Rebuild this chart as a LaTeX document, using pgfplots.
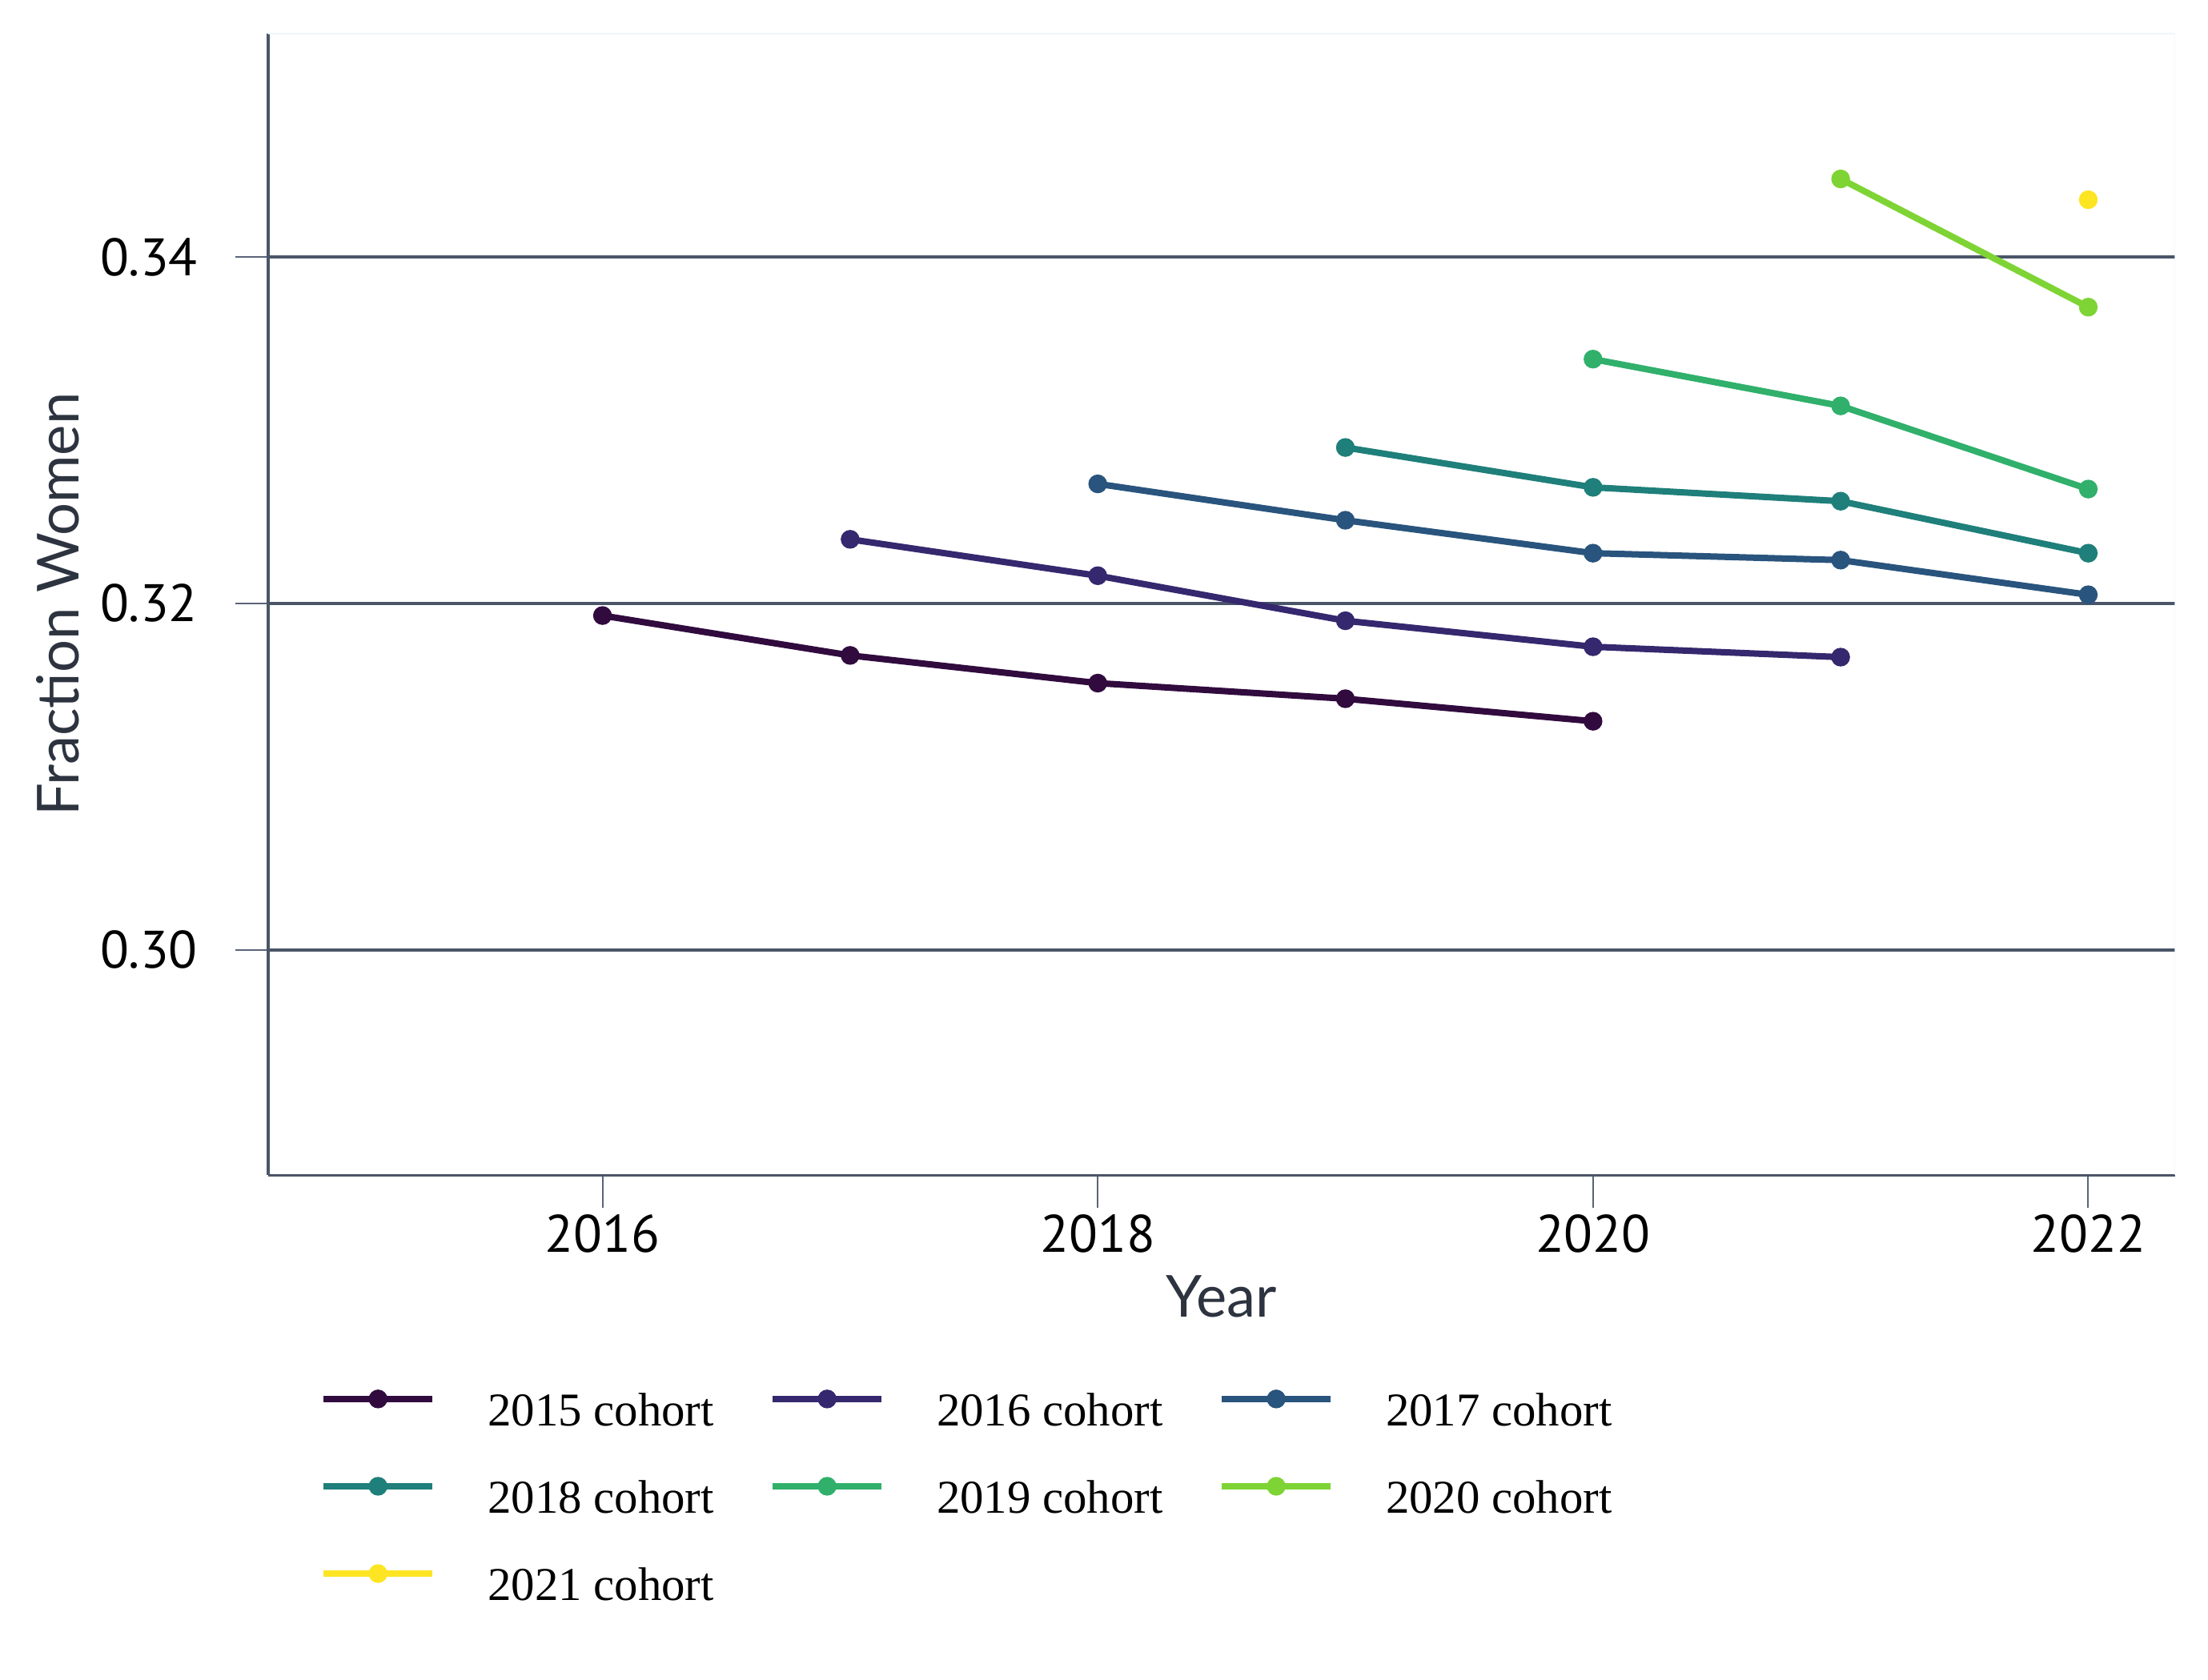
\documentclass[border=0pt]{standalone}
\usepackage{fontspec}
\usepackage{pgfplots}
\pgfplotsset{compat=1.18}
\setmainfont{Liberation Serif}
\newfontfamily\tickfam{PT Sans}
\newfontfamily\labelfam{Lato}
\newfontfamily\legendfam{Liberation Serif}
\newcommand\tickfont{\tickfam\fontsize{11.2bp}{13bp}\selectfont}
\newcommand\labelfont{\labelfam\fontsize{12.3bp}{14bp}\selectfont}
\newcommand\legendfont{\legendfam\fontsize{10bp}{12bp}\selectfont}
\newcommand\legendtext[1]{\makebox[59.8bp][l]{\rule[-5.95bp]{0pt}{18.8bp}#1}}
\definecolor{cA}{HTML}{310A3E}
\definecolor{cB}{HTML}{35286E}
\definecolor{cC}{HTML}{29547D}
\definecolor{cD}{HTML}{1F7F7A}
\definecolor{cE}{HTML}{30B06B}
\definecolor{cF}{HTML}{7ED434}
\definecolor{cG}{HTML}{FDE523}
\definecolor{slate}{HTML}{4A5568}
\definecolor{tickc}{HTML}{5A6478}
\definecolor{labelc}{HTML}{2D3440}
\definecolor{faint}{HTML}{EEF4FB}
\begin{document}
\begin{tikzpicture}
\useasboundingbox (0,0) rectangle (468.86bp,356.83bp);
\begin{axis}[
  at={(56.95bp,107.22bp)}, anchor=south west,
  width=404.89bp, height=242.52bp, scale only axis,
  xmin=2014.65, xmax=2022.35,
  ymin=0.2870, ymax=0.3529,
  xtick={2016,2018,2020,2022},
  xticklabels={2016,2018,2020,2022},
  ytick={0.30,0.32,0.34},
  yticklabels={0.30,0.32,0.34},
  axis x line*=bottom, axis y line*=left,
  axis line style={color=slate, line width=0.6bp},
  tick style={color=tickc, line width=0.35bp},
  major tick length=7bp, tick align=outside,
  ymajorgrids, grid style={color=slate, line width=0.68bp},
  xticklabel style={font=\tickfont, color=black, inner sep=1.26bp},
  yticklabel style={font=\tickfont, color=black, inner sep=0pt, xshift=-7.8bp},
  xlabel={Year}, ylabel={Fraction Women},
  xlabel style={font=\labelfont, color=labelc, at={(axis description cs:0.5,-0.106)}, anchor=center},
  ylabel style={font=\labelfont, color=labelc, at={(axis description cs:-0.1101,0.5)}, anchor=center},
  every axis plot/.append style={line width=1.36bp, mark=*, mark size=1.3bp},
  legend columns=3,
  legend cell align=left,
  legend style={at={(0.0273,-0.1664)}, anchor=north west, draw=none, fill=none,
    inner sep=0pt, outer sep=0pt, row sep=4.2bp, column sep=0pt, font=\legendfont,
    nodes={inner sep=0pt, outer sep=0pt},
    /tikz/every odd column/.append style={column sep=11bp}},
  legend image code/.code={\draw[#1, mark repeat=2, mark phase=2] plot coordinates {(0bp,0bp) (11.6bp,0bp) (23.2bp,0bp)};},
]
\draw[faint, line width=0.3bp] (rel axis cs:0,1) -- (rel axis cs:1,1) -- (rel axis cs:1,0);
\addplot[color=cA, mark options={fill=cA}] coordinates {(2016,0.3193) (2017,0.3170) (2018,0.3154) (2019,0.3145) (2020,0.3132)};
\addlegendentry{\legendtext{2015 cohort}}
\addplot[color=cB, mark options={fill=cB}] coordinates {(2017,0.3237) (2018,0.3216) (2019,0.3190) (2020,0.3175) (2021,0.3169)};
\addlegendentry{\legendtext{2016 cohort}}
\addplot[color=cC, mark options={fill=cC}] coordinates {(2018,0.3269) (2019,0.3248) (2020,0.3229) (2021,0.3225) (2022,0.3205)};
\addlegendentry{\legendtext{2017 cohort}}
\addplot[color=cD, mark options={fill=cD}] coordinates {(2019,0.3290) (2020,0.3267) (2021,0.3259) (2022,0.3229)};
\addlegendentry{\legendtext{2018 cohort}}
\addplot[color=cE, mark options={fill=cE}] coordinates {(2020,0.3341) (2021,0.3314) (2022,0.3266)};
\addlegendentry{\legendtext{2019 cohort}}
\addplot[color=cF, mark options={fill=cF}] coordinates {(2021,0.3445) (2022,0.3371)};
\addlegendentry{\legendtext{2020 cohort}}
\addplot[color=cG, mark options={fill=cG}] coordinates {(2022,0.3433)};
\addlegendentry{\legendtext{2021 cohort}}
\end{axis}
\end{tikzpicture}
\end{document}
